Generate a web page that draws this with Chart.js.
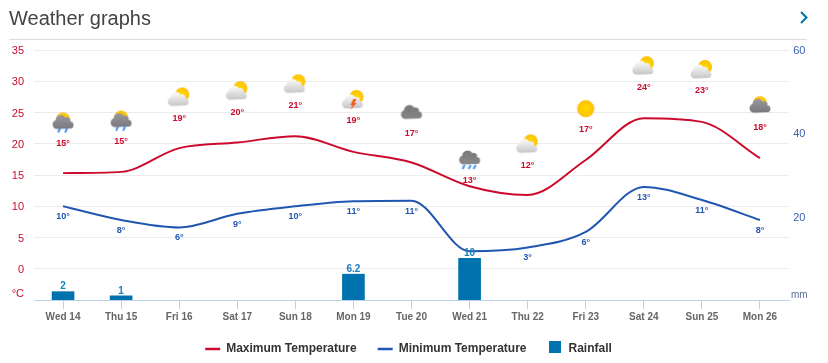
<!DOCTYPE html>
<html>
<head>
<meta charset="utf-8">
<title>Weather graphs</title>
<script src="https://cdn.jsdelivr.net/npm/chart.js@4"></script>
<style>
    html, body { margin: 0; padding: 0; background: #fff; overflow: hidden; }
    #wrap { position: relative; width: 828px; height: 363px; font-family: "Liberation Sans", Arial, sans-serif; }
    #heading { position: absolute; left: 9px; top: 6px; font-size: 20px; line-height: 24px; color: #444; }
    #rule { position: absolute; left: 9px; top: 39px; width: 798px; height: 1px; background: #dcdcdc; }
    #next { position: absolute; left: 799px; top: 11px; }
    #weather-chart { position: absolute; left: 0; top: 0; }
</style>
</head>
<body>
<div id="wrap">
    <canvas id="weather-chart" width="828" height="363"></canvas>
    <div id="heading">Weather graphs</div>
    <div id="rule"></div>
    <svg id="next" width="9" height="13" viewBox="0 0 9 13"><path d="M2 1 L7.5 6.5 L2 12" fill="none" stroke="#0072ae" stroke-width="2"/></svg>
</div>
<script>
const days = ['Wed 14', 'Thu 15', 'Fri 16', 'Sat 17', 'Sun 18', 'Mon 19', 'Tue 20', 'Wed 21', 'Thu 22', 'Fri 23', 'Sat 24', 'Sun 25', 'Mon 26'];
const maxTemp = [15.3, 15.5, 19.3, 20.2, 21.2, 18.7, 17, 13.2, 11.8, 17.4, 24.1, 23.5, 17.7];
const minTemp = [10, 7.8, 6.6, 8.8, 10, 10.8, 10.9, 2.8, 3.4, 5.9, 13.1, 11, 7.8];
const rainfall = [2, 1, null, null, null, 6.2, null, 10, null, null, null, null, null];
const maxLabels = [15, 15, 19, 20, 21, 19, 17, 13, 12, 17, 24, 23, 18];
const minLabels = [10, 8, 6, 9, 10, 11, 11, null, 3, 6, 13, 11, 8];
const iconLevels = [23.4, 23.7, 27.4, 28.4, 29.5, 27, 25, 17.4, 19.9, 25.6, 32.4, 31.8, 26];
const iconNames = ['sunRain', 'sunRain', 'partly', 'partly', 'partly', 'storm', 'cloud', 'rain', 'partly', 'sun', 'partly', 'partly', 'sunCloud'];

const RED = '#cc0a2b';
const BLUE = '#2156b0';
const BAR = '#0072ae';
const FONT = '"Liberation Sans", Arial, sans-serif';

function drawSun(c, x, y, r) {
    const g = c.createRadialGradient(x, y, 1, x, y, r);
    g.addColorStop(0, '#ffd500');
    g.addColorStop(0.8, '#ffc800');
    g.addColorStop(1, '#f8b000');
    c.fillStyle = g;
    c.beginPath();
    c.arc(x, y, r, 0, Math.PI * 2);
    c.fill();
}

function drawCloud(c, x, y, top, bottom) {
    const g = c.createLinearGradient(0, y - 9, 0, y + 6);
    g.addColorStop(0, top);
    g.addColorStop(1, bottom);
    c.fillStyle = g;
    c.beginPath();
    c.arc(x - 6, y + 1, 4.5, Math.PI * 0.5, Math.PI * 1.5);
    c.arc(x - 2, y - 3, 5.5, Math.PI, Math.PI * 1.8);
    c.arc(x + 4, y - 2, 4, Math.PI * 1.2, Math.PI * 1.9);
    c.arc(x + 7, y + 1.5, 3.5, Math.PI * 1.5, Math.PI * 0.5);
    c.closePath();
    c.fill();
}

function drawDrops(c, xs, y) {
    c.strokeStyle = '#3d95f0';
    c.lineWidth = 2;
    xs.forEach(x => {
        c.beginPath();
        c.moveTo(x + 1, y);
        c.lineTo(x - 1, y + 4);
        c.stroke();
    });
}

// one little canvas per weather type, handed to chart.js as pointStyle
function makeIcon(name) {
    const cv = document.createElement('canvas');
    cv.width = 30;
    cv.height = 26;
    const c = cv.getContext('2d');
    const x = 15, y = 13;
    if (name === 'sun') {
        drawSun(c, x, y, 8.5);
    } else if (name === 'partly' || name === 'storm') {
        drawSun(c, x + 3, y - 3, 7);
        drawCloud(c, x - 1, y + 3, '#ffffff', '#c4c4c4');
        if (name === 'storm') {
            c.fillStyle = '#f2581a';
            c.beginPath();
            c.moveTo(x, y - 1);
            c.lineTo(x - 3, y + 5);
            c.lineTo(x - 1, y + 5);
            c.lineTo(x - 3, y + 10);
            c.lineTo(x + 3, y + 3);
            c.lineTo(x + 1, y + 3);
            c.lineTo(x + 3, y - 1);
            c.closePath();
            c.fill();
        }
    } else if (name === 'sunCloud' || name === 'sunRain') {
        drawSun(c, x, y - 3, 7);
        drawCloud(c, x, y + 1, '#9a9aa0', '#77777c');
        if (name === 'sunRain') drawDrops(c, [x - 4, x + 3], y + 6);
    } else if (name === 'cloud') {
        drawCloud(c, x, y + 1, '#77777a', '#858588');
    } else if (name === 'rain') {
        drawCloud(c, x, y - 1, '#77777a', '#8a8a8d');
        drawDrops(c, [x - 6, x, x + 5], y + 5);
    }
    return cv;
}

// taller than the square so it sits a bit higher next to the legend text
function makeSwatch(color) {
    const cv = document.createElement('canvas');
    cv.width = 12;
    cv.height = 16;
    const c = cv.getContext('2d');
    c.fillStyle = color;
    c.fillRect(0, 0, 12, 12);
    return cv;
}

// temperature and rain numbers next to the marks
const valueLabels = {
    id: 'valueLabels',
    afterDatasetsDraw(chart) {
        const c = chart.ctx;
        const icons = chart.getDatasetMeta(0).data;
        const lows = chart.getDatasetMeta(2).data;
        const bars = chart.getDatasetMeta(3).data;
        c.save();
        c.textAlign = 'center';
        c.textBaseline = 'middle';
        c.font = 'bold 9px ' + FONT;
        c.fillStyle = RED;
        maxLabels.forEach((v, i) => c.fillText(v + '°', icons[i].x, icons[i].y + 21));
        c.fillStyle = BLUE;
        minLabels.forEach((v, i) => {
            if (v !== null) c.fillText(v + '°', lows[i].x, lows[i].y + 10.5);
        });
        c.font = 'bold 10px ' + FONT;
        c.fillStyle = '#1a7fbd';
        rainfall.forEach((v, i) => {
            if (v !== null) c.fillText(v, bars[i].x, bars[i].y - 5);
        });
        c.restore();
    }
};

const chart = new Chart(document.getElementById('weather-chart'), {
    type: 'bar',
    plugins: [valueLabels],
    data: {
        labels: days,
        datasets: [
            {
                type: 'line',
                label: 'Icons',
                data: iconLevels,
                showLine: false,
                pointStyle: iconNames.map(makeIcon),
                pointRadius: 10,
                yAxisID: 'y',
                order: 0
            },
            {
                type: 'line',
                label: 'Maximum Temperature',
                data: maxTemp,
                borderColor: RED,
                borderWidth: 2,
                cubicInterpolationMode: 'monotone',
                pointRadius: 0,
                yAxisID: 'y',
                order: 1
            },
            {
                type: 'line',
                label: 'Minimum Temperature',
                data: minTemp,
                borderColor: BLUE,
                borderWidth: 2,
                cubicInterpolationMode: 'monotone',
                pointRadius: 0,
                yAxisID: 'y',
                order: 2
            },
            {
                label: 'Rainfall',
                data: rainfall,
                backgroundColor: BAR,
                barThickness: 22,
                yAxisID: 'rain',
                order: 3
            }
        ]
    },
    options: {
        responsive: false,
        animation: false,
        events: [],
        layout: { padding: { left: 9, right: 20, top: 50, bottom: -2 } },
        plugins: {
            tooltip: { enabled: false },
            legend: {
                position: 'bottom',
                labels: {
                    usePointStyle: true,
                    pointStyleWidth: 15,
                    padding: 21,
                    color: '#333',
                    font: { family: FONT, size: 12, weight: 'bold' },
                    generateLabels() {
                        return [
                            { text: 'Maximum Temperature', pointStyle: 'line', strokeStyle: RED, lineWidth: 2.5, fontColor: '#333' },
                            { text: 'Minimum Temperature', pointStyle: 'line', strokeStyle: BLUE, lineWidth: 2.5, fontColor: '#333' },
                            { text: 'Rainfall', pointStyle: makeSwatch(BAR), fontColor: '#333' }
                        ];
                    }
                }
            }
        },
        scales: {
            x: {
                offset: true,
                grid: { offset: false, drawOnChartArea: false, color: '#c0d0e8', tickLength: 9 },
                border: { color: '#c0d0e8' },
                ticks: { color: '#666', padding: 2, maxRotation: 0, font: { family: FONT, size: 10, weight: 'bold' } },
                afterFit(scale) { scale.height = 22; }
            },
            y: {
                min: -5,
                max: 35,
                position: 'left',
                grid: { color: '#ececec', drawTicks: false },
                border: { display: false },
                ticks: {
                    stepSize: 5,
                    padding: 10,
                    labelOffset: 1,
                    color: RED,
                    font: { family: FONT, size: 11 },
                    callback: v => (v === -5 ? ['°C', ''] : v)
                },
                afterFit(scale) { scale.width = 25; }
            },
            rain: {
                min: 0,
                max: 60,
                position: 'right',
                grid: { display: false, drawTicks: false },
                border: { display: false },
                ticks: {
                    stepSize: 20,
                    padding: 2,
                    labelOffset: 1,
                    crossAlign: 'center',
                    color: ctx => (ctx.tick && ctx.tick.value === 0 ? '#5a6f96' : '#3a62b0'),
                    font: ctx => ({ family: FONT, size: ctx.tick && ctx.tick.value === 0 ? 10 : 11 }),
                    callback: v => (v === 0 ? ['mm', ''] : v)
                },
                afterFit(scale) { scale.width = 19; }
            }
        }
    }
});
</script>
</body>
</html>
